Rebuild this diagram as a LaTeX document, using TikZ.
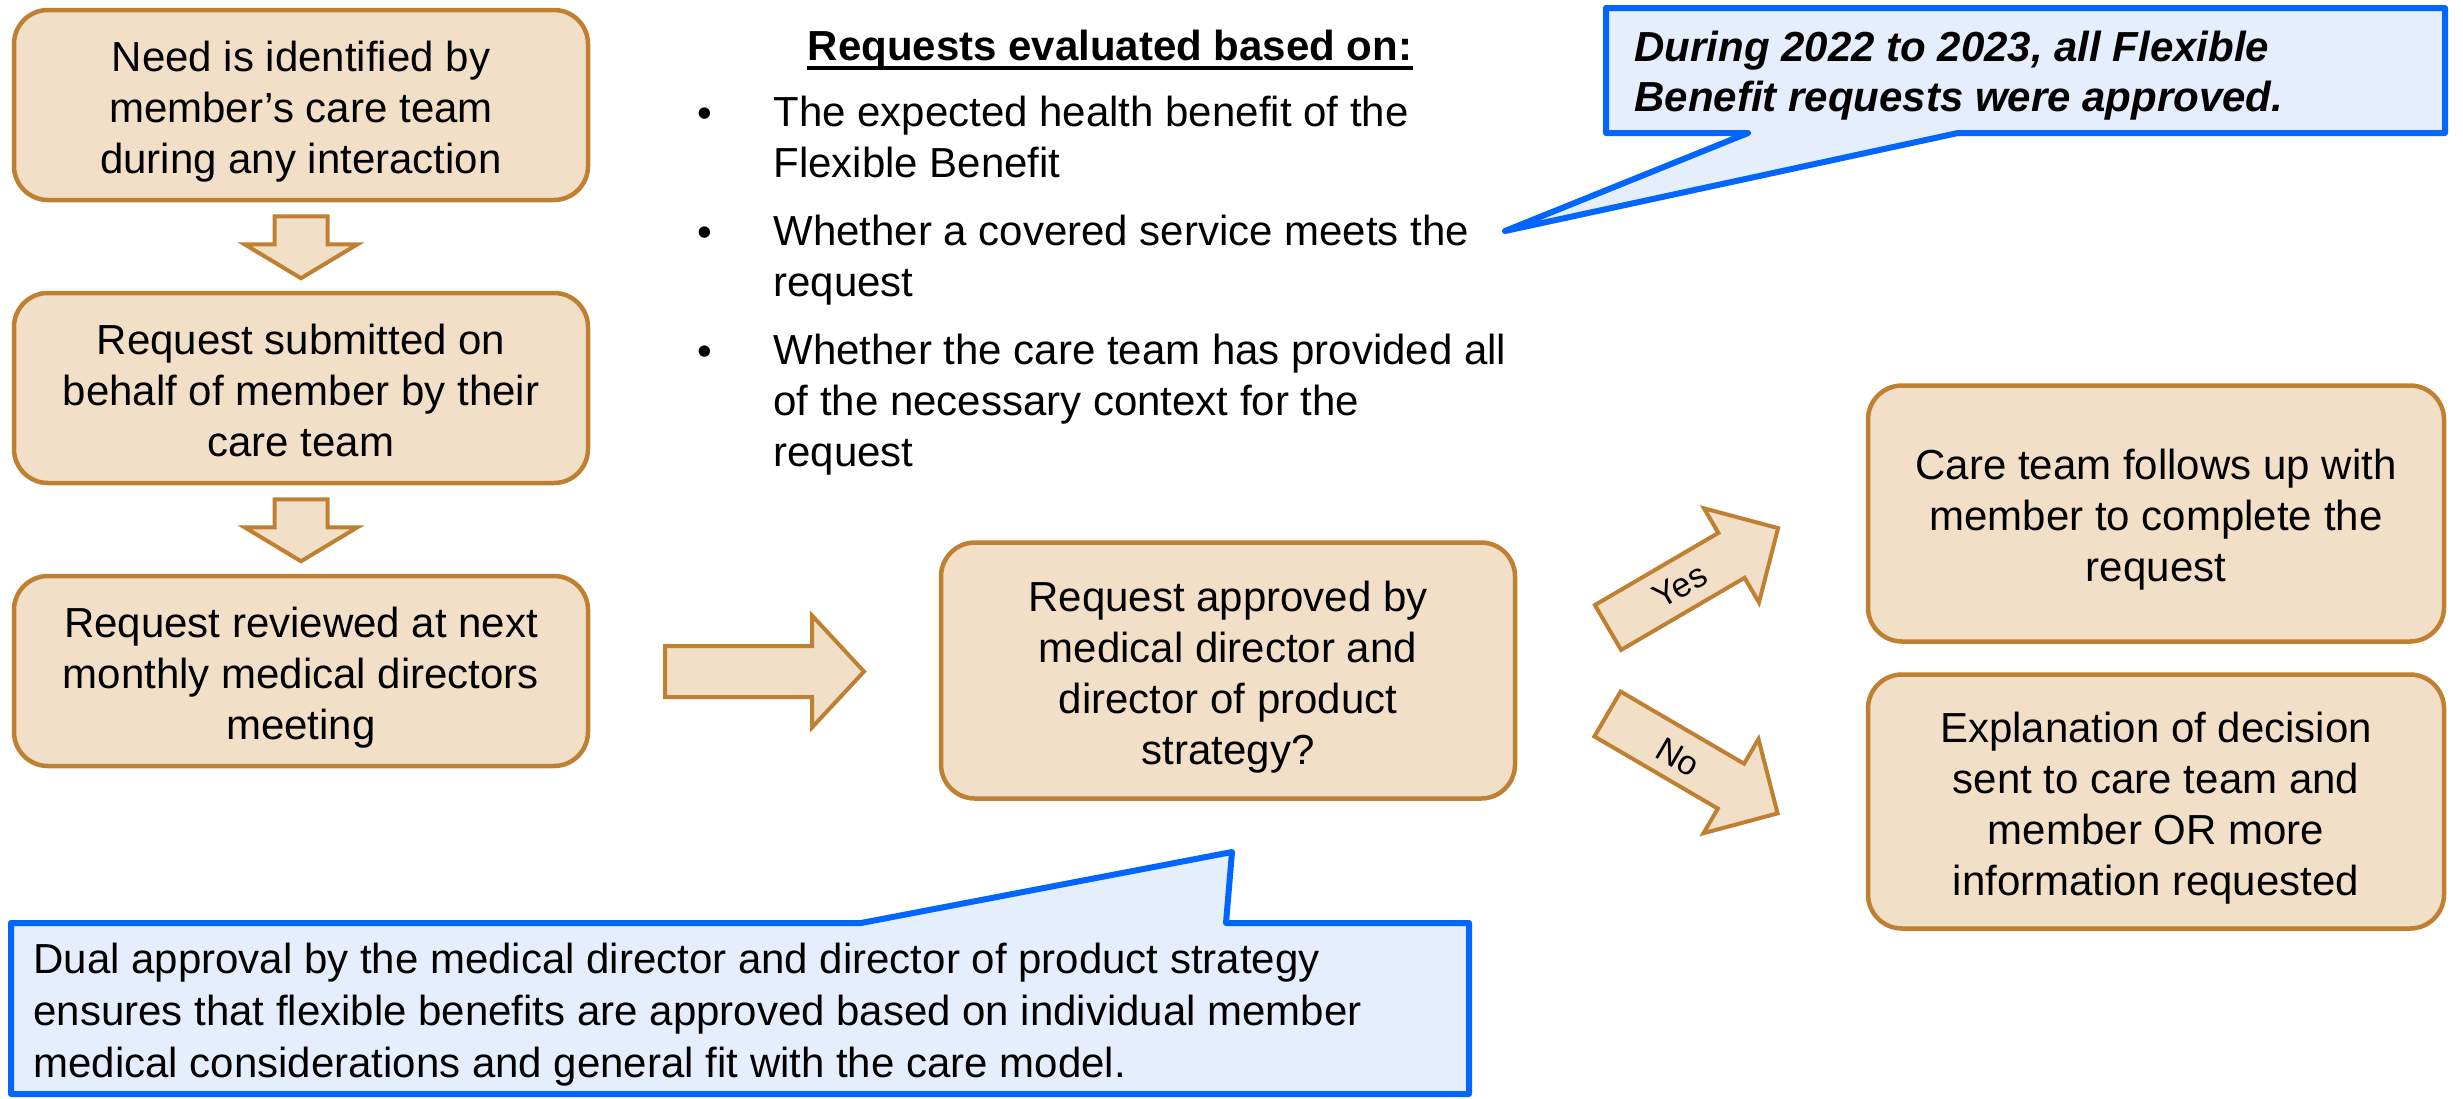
\documentclass[tikz,border=0pt]{standalone}
\usepackage{fontspec}
\setmainfont{Liberation Sans}
\usetikzlibrary{calc}
\definecolor{boxfill}{RGB}{242,223,199}
\definecolor{boxline}{RGB}{192,128,50}
\definecolor{callfill}{RGB}{228,238,252}
\definecolor{callline}{RGB}{0,102,255}
% #1 start, #2 angle, #3 length, #4 shaft half width, #5 head half width, #6 head length
\newcommand{\blkarrow}[6]{%
  \begin{scope}[shift={#1}, rotate=#2]
    \draw[blockarrow] (0,-#4) -- ({#3-#6},-#4) -- ({#3-#6},-#5) -- (#3,0)
      -- ({#3-#6},#5) -- ({#3-#6},#4) -- (0,#4) -- cycle;
  \end{scope}}
\newcommand{\tstr}{\rule{0pt}{21.5pt}}
\newcommand{\bstr}{\rule[-4.5pt]{0pt}{4.5pt}}
\begin{document}
\begin{tikzpicture}[x=0.5pt,y=-0.5pt,
  flowbox/.style={draw=boxline, fill=boxfill, line width=2.25pt, rounded corners=17pt,
    align=center, inner sep=0pt, font=\fontsize{21}{25.5}\selectfont},
  blockarrow/.style={draw=boxline, fill=boxfill, line width=2pt, line join=miter},
  callout/.style={draw=callline, fill=callfill, line width=3pt, line join=round},
  txt/.style={inner sep=0pt, align=left, font=\fontsize{21}{25.5}\selectfont}]
\useasboundingbox (0,0) rectangle (2463,1098);

% flow boxes
\node[flowbox, minimum width=287pt, minimum height=95pt] (b1) at (301,105)
  {\tstr Need is identified by\\member’s care team\\during any interaction\bstr};
\node[flowbox, minimum width=287pt, minimum height=95pt] (b2) at (301,388)
  {\tstr Request submitted on\\behalf of member by their\\care team\bstr};
\node[flowbox, minimum width=287pt, minimum height=95pt] (b3) at (301,671)
  {\tstr Request reviewed at next\\monthly medical directors\\meeting\bstr};
\node[flowbox, minimum width=287pt, minimum height=128pt] (b4) at (1228,670.5)
  {\tstr Request approved by\\medical director and\\director of product\\strategy?\bstr};
\node[flowbox, minimum width=288pt, minimum height=128pt] (b5) at (2156,513.5)
  {\tstr Care team follows up with\\member to complete the\\request\bstr};
\node[flowbox, minimum width=288pt, minimum height=127pt] (b6) at (2156,801.5)
  {\tstr Explanation of decision\\sent to care team and\\member OR more\\information requested\bstr};

% block arrows
\blkarrow{($(b1.south)+(0,14)$)}{-90}{62}{26.5}{56.5}{34}
\blkarrow{($(b2.south)+(0,14)$)}{-90}{62}{26.5}{56.5}{34}
\blkarrow{(665,671.5)}{0}{199}{25.5}{56}{52}
\blkarrow{(1608,627.5)}{30.3}{197}{26}{54.5}{54}
\blkarrow{(1607.5,714)}{-30.3}{197}{26}{54.5}{54}
\node[rotate=30.3, inner sep=0pt, font=\fontsize{17}{19}\selectfont] (yes) at (1680,586) {Yes};
\node[rotate=-30.3, inner sep=0pt, font=\fontsize{17}{19}\selectfont] (no) at (1678,757) {No};

% criteria list
\node[inner sep=0pt, anchor=base, font=\fontsize{21}{25}\selectfont\bfseries] (head) at (1110,60)
  {Requests evaluated based on:};
\draw[line width=1.6pt] ($(head.base west)+(0,8)$) -- ($(head.base east)+(0,8)$);
\node[inner sep=0pt, anchor=base, font=\fontsize{21}{25}\selectfont] (d1) at (705,127) {•};
\node[inner sep=0pt, anchor=base, font=\fontsize{21}{25}\selectfont] (d2) at (705,246) {•};
\node[inner sep=0pt, anchor=base, font=\fontsize{21}{25}\selectfont] (d3) at (705,365) {•};
\node[txt, anchor=north west] (i1) at (773,96)
  {The expected health benefit of the\\Flexible Benefit};
\node[txt, anchor=north west] (i2) at (773,215)
  {Whether a covered service meets the\\request};
\node[txt, anchor=north west] (i3) at (773,334)
  {Whether the care team has provided all\\of the necessary context for the\\request};

% callouts
\draw[callout] (1606,8) -- (2445,8) -- (2445,133) -- (1958,133) -- (1505,231)
  -- (1748,133) -- (1606,133) -- cycle;
\node[txt, anchor=north west, font=\fontsize{21}{25}\selectfont\bfseries\itshape] (note1) at (1634,31)
  {During 2022 to 2023, all Flexible\\Benefit requests were approved.};

\draw[callout] (11,923) -- (861,923) -- (1232,852) -- (1226,923) -- (1469,923)
  -- (1469,1094) -- (11,1094) -- cycle;
\node[txt, anchor=north west, font=\fontsize{21}{26}\selectfont] (note2) at (33,943)
  {Dual approval by the medical director and director of product strategy\\ensures that flexible benefits are approved based on individual member\\medical considerations and general fit with the care model.};
\end{tikzpicture}
\end{document}
